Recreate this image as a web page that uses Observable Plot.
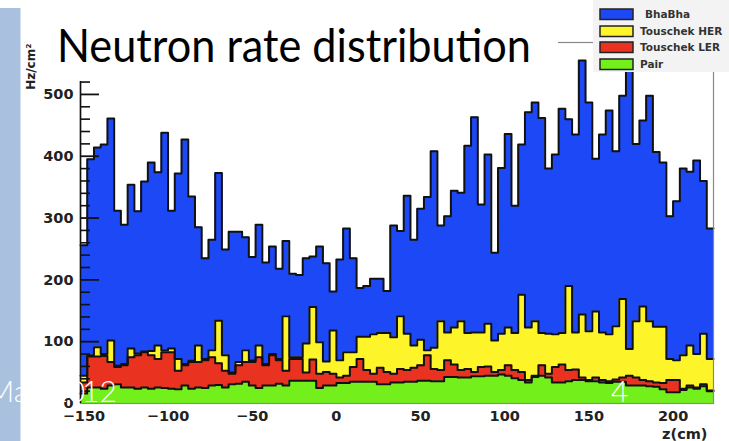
<!DOCTYPE html>
<html><head><meta charset="utf-8">
<script src="https://cdn.jsdelivr.net/npm/d3@7"></script>
<script src="https://cdn.jsdelivr.net/npm/@observablehq/plot@0.6"></script>
<style>
html,body{margin:0;padding:0;background:#fff;}
#wrap{position:relative;width:729px;height:441px;overflow:hidden;background:#fff;}
#wrap > svg{position:absolute;left:0;top:0;}
</style>
</head><body>
<div id="wrap"></div>
<script>
// ---- data ----
const zStart = -152;          // cm, lower edge of first bin
const zStep = 4;              // cm, bin width
const xDomain = [-152, 224];
const yDomain = [0, 584];
const xTicks = [-150, -100, -50, 0, 50, 100, 150, 200];
const yTicks = [0, 100, 200, 300, 400, 500];
const yMinorTicks = [20,40,60,80,120,140,160,180,220,240,260,280,320,340,360,380,420,440,460,480,520];
const seriesNames = ["BhaBha", "Touschek HER", "Touschek LER", "Pair"];
const seriesColors = ["#1c48f5", "#fdf42a", "#e9321f", "#73f01b"];
const stackOrder = ["Pair", "Touschek LER", "Touschek HER", "BhaBha"];

const pair = [16,26,26,24,29,31,26,26,24,26,24,26,25,24,23,29,24,26,25,29,30,26,31,32,35,29,25,29,29,32,29,
  37,37,37,37,25,29,29,33,33,35,35,35,35,31,31,34,34,35,35,37,37,36,36,43,43,42,42,44,44,45,45,47,
  45,41,38,34,43,45,42,34,34,36,38,38,36,36,34,33,35,35,29,29,29,28,27,23,18,18,22,26,24,28,20];
const touschekLER = [18,50,50,53,38,28,36,49,54,57,54,46,58,59,30,33,43,41,45,46,35,27,17,30,32,38,50,33,49,38,24,
  35,35,13,34,23,22,19,9,12,24,37,19,13,27,20,14,22,19,23,25,41,20,18,27,20,12,14,7,15,15,6,7,
  17,13,13,4,2,17,6,25,29,18,17,4,2,6,4,3,4,7,16,13,9,8,7,10,20,20,2,3,2,3,1];
const touschekHER = [11,2,15,3,35,2,2,14,3,1,7,22,3,6,19,2,2,27,2,11,69,25,2,5,19,3,19,2,2,2,88,
  3,3,47,85,51,17,70,28,38,24,36,54,64,56,63,59,85,59,36,41,8,34,79,45,60,79,58,64,56,69,51,59,
  61,60,125,85,88,52,65,53,51,136,60,102,79,107,77,76,86,127,43,91,119,97,90,91,34,32,54,65,54,82,51];
const bhabha = [211,317,323,339,359,251,225,265,230,275,305,280,352,223,300,363,266,191,163,179,239,171,228,211,183,167,195,164,174,146,122,
  135,133,138,82,155,159,63,163,200,152,79,82,90,88,68,181,138,223,171,212,248,318,155,188,221,208,303,348,207,274,142,268,
  313,206,243,348,354,348,267,291,363,270,320,411,370,247,320,362,283,329,457,287,301,365,283,266,231,257,302,281,313,247,211];

// ---- table for the library ----
const seriesValues = {"BhaBha": bhabha, "Touschek HER": touschekHER, "Touschek LER": touschekLER, "Pair": pair};
const rows = [];
for (const s of seriesNames) {
  const vals = seriesValues[s];
  vals.forEach((v, i) => rows.push({z: zStart + i * zStep, v, s}));
  rows.push({z: zStart + vals.length * zStep, v: vals[vals.length - 1], s}); // close last bin
}

const innerW = 729 - 80 - 16;
const chart = Plot.plot({
  width: 729, height: 441,
  marginLeft: 80, marginRight: 16, marginTop: 42, marginBottom: 38,
  x: {domain: xDomain, ticks: xTicks, tickSize: 0, tickPadding: 7, label: null},
  y: {domain: yDomain, ticks: yTicks, tickSize: 0, tickPadding: 7, label: null},
  color: {domain: seriesNames, range: seriesColors},
  style: {fontFamily: "DejaVu Sans", fontWeight: "bold", fontSize: "14.5px", color: "#222", background: "#fff"},
  marks: [
    Plot.areaY(rows, {x: "z", y: "v", fill: "s", curve: "step-after", order: stackOrder}),
    Plot.lineY(rows, Plot.stackY2({x: "z", y: "v", z: "s", order: stackOrder, curve: "step-after", stroke: "#111", strokeWidth: 2})),
    Plot.frame({stroke: "#888", strokeWidth: 1.2}),
    Plot.ruleX([xDomain[0]], {stroke: "#111", strokeWidth: 1.6}),
    Plot.tickY(yTicks.filter(d => d > 0), {y: d => d, insetRight: innerW - 19, stroke: "#111", strokeWidth: 1.8}),
    Plot.tickY(yMinorTicks, {y: d => d, insetRight: innerW - 10, stroke: "#111", strokeWidth: 1.6}),
    Plot.text(["z(cm)"], {frameAnchor: "bottom-right", text: d => d, textAnchor: "end", lineAnchor: "middle", dx: -6, dy: 31, fontSize: 14.5, fontWeight: "bold", fill: "#222"}),
    Plot.text(["Hz/cm²"], {frameAnchor: "top-left", text: d => d, rotate: -90, textAnchor: "end", lineAnchor: "middle", dx: -49, dy: 1, fontSize: 12, fontWeight: "bold", fill: "#222"})
  ]
});
const wrap = document.getElementById("wrap");
wrap.appendChild(chart);

// ---- slide overlay: side bar, title box, ROOT legend, footer ----
const NS = "http://www.w3.org/2000/svg";
const ov = document.createElementNS(NS, "svg");
ov.setAttribute("width", 729); ov.setAttribute("height", 441);
ov.setAttribute("viewBox", "0 0 729 441");
function el(tag, attrs, text) {
  const e = document.createElementNS(NS, tag);
  for (const k in attrs) e.setAttribute(k, attrs[k]);
  if (text != null) e.textContent = text;
  ov.appendChild(e); return e;
}
el("rect", {x: 0, y: 8, width: 20.5, height: 433, fill: "#a9c1de"});
el("rect", {x: 40, y: 0, width: 518, height: 81, fill: "#fff"});
el("text", {x: 57, y: 62, "font-family": "Lato, 'Open Sans', sans-serif", "font-size": 46, fill: "#000",
  textLength: 474, lengthAdjust: "spacingAndGlyphs"}, "Neutron rate distribution");
// legend
el("rect", {x: 593, y: -2, width: 140, height: 74, fill: "#f3f3f3"});
const legY = [9, 26, 42, 59];
seriesNames.forEach((s, i) => {
  el("rect", {x: 600, y: legY[i], width: 33, height: 10.5, fill: seriesColors[i], stroke: "#222", "stroke-width": 1.5});
  el("text", {x: i === 0 ? 645 : 640, y: legY[i] + 9, "font-family": "DejaVu Sans", "font-weight": "bold", "font-size": 10.5, fill: "#333"}, s);
});
// footer (white slide text)
const ft = el("text", {y: 402, "font-family": "Lato, 'Open Sans', sans-serif", "font-weight": 300, "font-size": 30, fill: "#fff"});
const t1 = document.createElementNS(NS, "tspan"); t1.setAttribute("x", -13); t1.textContent = "May 20"; ft.appendChild(t1);
const t2 = document.createElementNS(NS, "tspan"); t2.setAttribute("x", 82); t2.textContent = "12"; ft.appendChild(t2);
el("text", {x: 611, y: 402, "font-family": "Lato, 'Open Sans', sans-serif", "font-weight": 300, "font-size": 30, fill: "#fff"}, "4");
wrap.appendChild(ov);
</script>
</body></html>
